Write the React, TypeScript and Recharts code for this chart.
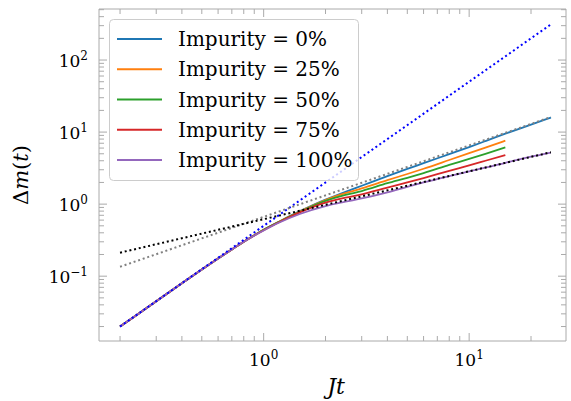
import React from 'react';
import { LineChart, Line, XAxis, YAxis, ReferenceArea, Legend } from 'recharts';

// ---- data ----
const tFull = [0.2, 0.25, 0.3, 0.4, 0.5, 0.6, 0.7, 0.8, 1.0, 1.2, 1.5, 2, 2.5, 3, 4, 5, 6, 8, 10, 12, 15, 20, 25];
const tShort = [0.2, 0.25, 0.3, 0.4, 0.5, 0.6, 0.7, 0.8, 1.0, 1.2, 1.5, 2, 2.5, 3, 4, 5, 6, 8, 10, 12, 15];

const imp0 = [0.02, 0.031, 0.045, 0.08, 0.124, 0.176, 0.235, 0.3, 0.44, 0.58, 0.8, 1.16, 1.48, 1.8, 2.45, 3.08, 3.7, 4.95, 6.2, 7.5, 9.5, 12.7, 15.9];
const imp25 = [0.02, 0.031, 0.045, 0.08, 0.124, 0.176, 0.235, 0.3, 0.44, 0.58, 0.79, 1.14, 1.42, 1.65, 2.15, 2.62, 3.1, 4.1, 5.1, 6.1, 7.6];
const imp50 = [0.02, 0.031, 0.045, 0.08, 0.124, 0.176, 0.235, 0.3, 0.44, 0.575, 0.78, 1.11, 1.34, 1.52, 1.95, 2.32, 2.7, 3.5, 4.25, 5.0, 6.15];
const imp75 = [0.02, 0.031, 0.045, 0.08, 0.124, 0.176, 0.235, 0.3, 0.435, 0.57, 0.77, 1.05, 1.23, 1.37, 1.7, 2.0, 2.3, 2.9, 3.45, 4.0, 4.8];
const imp100 = [0.02, 0.031, 0.045, 0.08, 0.124, 0.176, 0.235, 0.3, 0.43, 0.56, 0.73, 0.94, 1.08, 1.2, 1.46, 1.74, 2.0, 2.45, 2.85, 3.2, 3.75, 4.55, 5.2];

// guide lines (straight in log-log, given by their end points)
const guideT = [0.2, 25];
const guideQuadratic = [0.02, 312.5];
const guideLinear = [0.135, 16.2];
const guideTwoThirds = [0.212, 5.25];

const seriesNames = ['Impurity = 0%', 'Impurity = 25%', 'Impurity = 50%', 'Impurity = 75%', 'Impurity = 100%'];
const seriesColors = ['#1f77b4', '#ff7f0e', '#2ca02c', '#d62728', '#9467bd'];

const xTicks = [0.2, 0.3, 0.4, 0.5, 0.6, 0.7, 0.8, 0.9, 1, 2, 3, 4, 5, 6, 7, 8, 9, 10, 20];
const yTicks = [0.02, 0.03, 0.04, 0.05, 0.06, 0.07, 0.08, 0.09, 0.1, 0.2, 0.3, 0.4, 0.5, 0.6, 0.7, 0.8, 0.9, 1,
  2, 3, 4, 5, 6, 7, 8, 9, 10, 20, 30, 40, 50, 60, 70, 80, 90, 100, 200, 300, 400, 500];

const X_MIN = 0.158;
const X_MAX = 29.6;
const Y_MIN = 0.0126;
const Y_MAX = 511;

const W = 571;
const H = 401;
const PLOT_TOP = 9;
const PLOT_RIGHT = 566;
const FONT = '"DejaVu Serif", serif';
const FRAME = '#aaaaaa';

const toPts = (ts: number[], vs: number[]) => ts.map((t, i) => ({ t, v: vs[i] }));

const curves = [
  toPts(tFull, imp0),
  toPts(tShort, imp25),
  toPts(tShort, imp50),
  toPts(tShort, imp75),
  toPts(tFull, imp100),
];

const guides = [
  { data: toPts(guideT, guideQuadratic), color: '#0000ff' },
  { data: toPts(guideT, guideLinear), color: '#808080' },
  { data: toPts(guideT, guideTwoThirds), color: '#000000' },
];

const isMajor = (v: number) => {
  const l = Math.log10(v);
  return Math.abs(l - Math.round(l)) < 1e-9;
};

const expText = (v: number) => {
  const e = Math.round(Math.log10(v));
  return e < 0 ? '\u2212' + String(-e) : String(e);
};

const XTick = (props: any) => {
  const { x, y, payload } = props;
  const v = payload.value;
  const major = isMajor(v);
  const len = major ? 8 : 5;
  return (
    <g>
      <line x1={x} x2={x} y1={y} y2={y - len} stroke={FRAME} strokeWidth={1} />
      <line x1={x} x2={x} y1={PLOT_TOP} y2={PLOT_TOP + len} stroke={FRAME} strokeWidth={1} />
      {major && (
        <text x={x} y={y + 25} textAnchor="middle" fontFamily={FONT} fontSize={17} fill="#000">
          10<tspan dy={-7} fontSize={12}>{expText(v)}</tspan>
        </text>
      )}
    </g>
  );
};

const YTick = (props: any) => {
  const { x, y, payload } = props;
  const v = payload.value;
  const major = isMajor(v);
  const len = major ? 8 : 5;
  return (
    <g>
      <line x1={x} x2={x + len} y1={y} y2={y} stroke={FRAME} strokeWidth={1} />
      <line x1={PLOT_RIGHT} x2={PLOT_RIGHT - len} y1={y} y2={y} stroke={FRAME} strokeWidth={1} />
      {major && (
        <text x={x - 11} y={y + 7} textAnchor="end" fontFamily={FONT} fontSize={17} fill="#000">
          10<tspan dy={-7} fontSize={12}>{expText(v)}</tspan>
        </text>
      )}
    </g>
  );
};

const renderXLabel = () => (
  <text x={336} y={394} textAnchor="middle" fontFamily={FONT} fontSize={22} fontStyle="italic" fill="#000">
    Jt
  </text>
);

const renderYLabel = () => (
  <text x={28} y={175} textAnchor="middle" fontFamily={FONT} fontSize={21} fill="#000" transform="rotate(-90, 28, 175)">
    {'\u0394'}<tspan fontStyle="italic">m</tspan>(<tspan fontStyle="italic">t</tspan>)
  </text>
);

const renderLegend = () => (
  <svg width={250} height={162} style={{ display: 'block' }}>
    <rect x={0.5} y={0.5} width={249} height={161} rx={4} ry={4} fill="#ffffff" fillOpacity={0.8} stroke="#cccccc" strokeWidth={1} />
    {seriesNames.map((name, i) => {
      const cy = 20 + 30.25 * i;
      return (
        <g key={name}>
          <line x1={8} x2={53} y1={cy} y2={cy} stroke={seriesColors[i]} strokeWidth={1.8} />
          <text x={69} y={cy + 7} fontFamily={FONT} fontSize={20} fill="#000">{name}</text>
        </g>
      );
    })}
  </svg>
);

export default function App() {
  return (
    <div style={{ position: 'absolute', left: 0, top: 0, width: W, height: H, background: '#fff' }}>
      <LineChart width={W} height={H} margin={{ top: PLOT_TOP, right: W - PLOT_RIGHT, bottom: 0, left: 9 }}>
        <XAxis
          dataKey="t"
          type="number"
          scale="log"
          domain={[X_MIN, X_MAX]}
          allowDataOverflow
          ticks={xTicks}
          interval={0}
          tickSize={0}
          tickMargin={0}
          axisLine={false}
          tickLine={false}
          tick={<XTick />}
          height={60}
          label={renderXLabel}
        />
        <YAxis
          dataKey="v"
          type="number"
          scale="log"
          domain={[Y_MIN, Y_MAX]}
          allowDataOverflow
          ticks={yTicks}
          interval={0}
          tickSize={0}
          tickMargin={0}
          axisLine={false}
          tickLine={false}
          tick={<YTick />}
          width={90}
          label={renderYLabel}
        />
        <ReferenceArea x1={X_MIN} x2={X_MAX} y1={Y_MIN} y2={Y_MAX} fill="none" stroke={FRAME} strokeWidth={1} />
        {curves.map((d, i) => (
          <Line
            key={seriesNames[i]}
            data={d}
            dataKey="v"
            type="monotone"
            stroke={seriesColors[i]}
            strokeWidth={1.8}
            dot={false}
            activeDot={false}
            isAnimationActive={false}
          />
        ))}
        {guides.map((g, i) => (
          <Line
            key={'guide' + i}
            data={g.data}
            dataKey="v"
            type="linear"
            stroke={g.color}
            strokeWidth={2}
            strokeDasharray="2 2.8"
            dot={false}
            activeDot={false}
            isAnimationActive={false}
          />
        ))}
        <Legend
          layout="vertical"
          align="center"
          verticalAlign="middle"
          content={renderLegend}
          wrapperStyle={{ left: 109, top: 19, width: 250, height: 162 }}
        />
      </LineChart>
    </div>
  );
}
